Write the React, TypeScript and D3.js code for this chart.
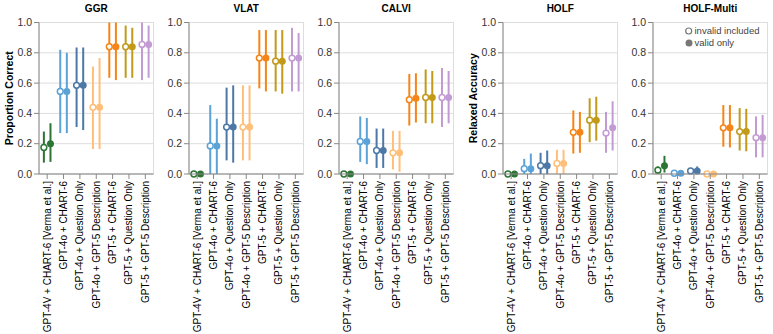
import React from "react";
import * as d3 from "d3";

const categories = [
  "GPT-4V + CHART-6 [Verma et al.]",
  "GPT-4o + CHART-6",
  "GPT-4o + Question Only",
  "GPT-4o + GPT-5 Description",
  "GPT-5 + CHART-6",
  "GPT-5 + Question Only",
  "GPT-5 + GPT-5 Description",
];
const colors = ["#2c7534", "#5ba3d6", "#4c78a8", "#ffbf79", "#f58518", "#c29a1a", "#c39bd3"];
const datasets = ["GGR", "VLAT", "CALVI", "HOLF", "HOLF-Multi"];
const yTitles = ["Proportion Correct", "", "", "Relaxed Accuracy", ""];
const yTicks = [0, 0.2, 0.4, 0.6, 0.8, 1.0];
const legendLabels = ["invalid included", "valid only"];

// [mean, low, high] per category
const ggrInvalid = [[0.175, 0.075, 0.28], [0.545, 0.27, 0.82], [0.585, 0.31, 0.835], [0.44, 0.165, 0.71], [0.84, 0.635, 1.0], [0.84, 0.635, 0.98], [0.855, 0.62, 1.0]];
const ggrValid = [[0.2, 0.08, 0.335], [0.545, 0.27, 0.8], [0.585, 0.29, 0.835], [0.44, 0.165, 0.765], [0.84, 0.62, 1.0], [0.84, 0.635, 0.965], [0.855, 0.635, 0.98]];
const vlatInvalid = [[0, 0, 0], [0.185, 0, 0.455], [0.31, 0.09, 0.57], [0.31, 0.09, 0.585], [0.765, 0.565, 0.95], [0.745, 0.545, 0.95], [0.765, 0.545, 0.965]];
const vlatValid = [[0, 0, 0], [0.185, 0, 0.365], [0.31, 0.075, 0.585], [0.31, 0.09, 0.585], [0.765, 0.545, 0.95], [0.745, 0.53, 0.95], [0.765, 0.545, 0.93]];
const calviInvalid = [[0, 0, 0], [0.215, 0.08, 0.38], [0.155, 0.04, 0.3], [0.14, 0.03, 0.285], [0.49, 0.32, 0.66], [0.505, 0.335, 0.69], [0.505, 0.31, 0.7]];
const calviValid = [[0, 0, 0], [0.215, 0.065, 0.37], [0.155, 0.04, 0.3], [0.14, 0.015, 0.285], [0.5, 0.34, 0.665], [0.505, 0.335, 0.68], [0.505, 0.335, 0.68]];
const holfInvalid = [[0, 0, 0], [0.035, 0, 0.1], [0.055, 0, 0.14], [0.07, 0, 0.16], [0.275, 0.135, 0.42], [0.355, 0.21, 0.5], [0.27, 0.14, 0.41]];
const holfValid = [[0, 0, 0], [0.035, 0, 0.135], [0.055, 0, 0.155], [0.07, 0, 0.16], [0.275, 0.14, 0.41], [0.355, 0.22, 0.51], [0.305, 0.155, 0.48]];
const multiInvalid = [[0.025, 0, 0.05], [0.005, 0, 0.01], [0.02, 0, 0.04], [0, 0, 0], [0.305, 0.18, 0.455], [0.28, 0.155, 0.435], [0.24, 0.11, 0.38]];
const multiValid = [[0.055, 0.01, 0.12], [0.005, 0, 0.01], [0.02, 0, 0.05], [0, 0, 0], [0.305, 0.175, 0.455], [0.28, 0.15, 0.43], [0.24, 0.11, 0.39]];

const invalidSeries = [ggrInvalid, vlatInvalid, calviInvalid, holfInvalid, multiInvalid];
const validSeries = [ggrValid, vlatValid, calviValid, holfValid, multiValid];

const panelLefts = [39, 189, 339, 503, 653];
const panelW = 114.5;
const top = 22.5;
const bottom = 174;
const FONT = "'Liberation Sans', Arial, sans-serif";

function Panel({ idx }: { idx: number }) {
  const x0 = panelLefts[idx];
  const x = d3.scaleBand<string>().domain(categories).range([x0, x0 + panelW]);
  const y = d3.scaleLinear().domain([0, 1]).range([bottom, top]);
  const off = 3.3;
  const inv = invalidSeries[idx];
  const val = validSeries[idx];
  const cx = (c: string) => (x(c) as number) + x.bandwidth() / 2;
  return (
    <g>
      <rect x={x0} y={top} width={panelW} height={bottom - top} fill="none" stroke="#ddd" />
      {yTicks.map((t) => (
        <line key={"g" + t} x1={x0} x2={x0 + panelW} y1={y(t)} y2={y(t)} stroke="#ddd" />
      ))}
      {categories.map((c, i) => {
        const a = inv[i];
        const b = val[i];
        const xc = cx(c);
        return (
          <g key={c}>
            <line x1={xc - off} x2={xc - off} y1={y(a[1])} y2={y(a[2])} stroke={colors[i]} strokeWidth={2} />
            <line x1={xc + off} x2={xc + off} y1={y(b[1])} y2={y(b[2])} stroke={colors[i]} strokeWidth={2} />
            <circle cx={xc - off} cy={y(a[0])} r={2.9} fill="white" stroke={colors[i]} strokeWidth={1.5} />
            <circle cx={xc + off} cy={y(b[0])} r={3.5} fill={colors[i]} />
          </g>
        );
      })}
      <line x1={x0} x2={x0} y1={top} y2={bottom} stroke="#888" />
      <line x1={x0} x2={x0 + panelW} y1={bottom} y2={bottom} stroke="#888" />
      {yTicks.map((t) => (
        <g key={"t" + t}>
          <line x1={x0 - 5} x2={x0} y1={y(t)} y2={y(t)} stroke="#888" />
          <text x={x0 - 7} y={y(t)} dy="0.35em" textAnchor="end" fontSize={10.5} fill="#333" fontFamily={FONT}>
            {d3.format(".1f")(t)}
          </text>
        </g>
      ))}
      {categories.map((c) => (
        <g key={"x" + c}>
          <line x1={cx(c)} x2={cx(c)} y1={bottom} y2={bottom + 5} stroke="#888" />
          <text
            transform={`translate(${cx(c)},${bottom + 7}) rotate(-90)`}
            dy="0.35em"
            textAnchor="end"
            fontSize={10}
            fill="#000"
            fontFamily={FONT}
          >
            {c}
          </text>
        </g>
      ))}
      <text x={x0 + panelW / 2} y={12} textAnchor="middle" fontSize={10} fontWeight="bold" fontFamily={FONT}>
        {datasets[idx]}
      </text>
      {yTitles[idx] && (
        <text
          transform={`translate(${x0 - 26},${(top + bottom) / 2}) rotate(-90)`}
          textAnchor="middle"
          fontSize={10.5}
          fontWeight="bold"
          fontFamily={FONT}
        >
          {yTitles[idx]}
        </text>
      )}
      {idx === 4 && (
        <g fontFamily={FONT} fontSize={9.5}>
          <circle cx={688.7} cy={31} r={3} fill="white" stroke="#777" strokeWidth={1.2} />
          <text x={694.5} y={31} dy="0.35em" fill="#444">{legendLabels[0]}</text>
          <circle cx={689} cy={43} r={3.5} fill="#777" />
          <text x={694.5} y={43} dy="0.35em" fill="#444">{legendLabels[1]}</text>
        </g>
      )}
    </g>
  );
}

export default function App() {
  return (
    <svg width={773} height={334} style={{ position: "absolute", left: 0, top: 0, background: "white" }}>
      {datasets.map((d, i) => (
        <Panel key={d} idx={i} />
      ))}
    </svg>
  );
}
